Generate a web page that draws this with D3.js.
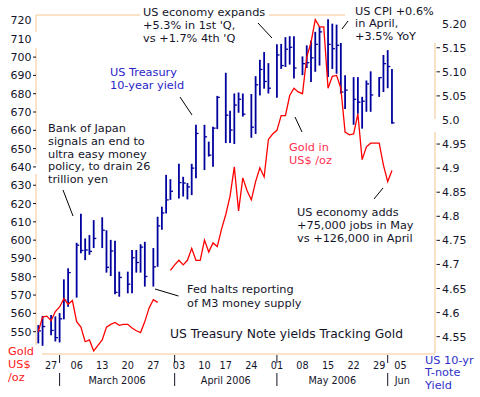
<!DOCTYPE html>
<html><head><meta charset="utf-8">
<script src="https://cdn.jsdelivr.net/npm/d3@7"></script>
<style>body{margin:0;background:#fff}svg{display:block;font-family:"DejaVu Sans",Verdana,sans-serif}</style>
</head><body><svg id="c" width="480" height="397"></svg>
<script>
// ---------- data ----------
const holidays = ["2006-04-14","2006-05-29"];
const barDates = ["2006-02-23","2006-02-24","2006-02-27","2006-02-28","2006-03-01","2006-03-02","2006-03-03",
"2006-03-06","2006-03-07","2006-03-08","2006-03-09","2006-03-10","2006-03-13","2006-03-14","2006-03-15","2006-03-16","2006-03-17",
"2006-03-20","2006-03-21","2006-03-22","2006-03-23","2006-03-24","2006-03-27","2006-03-28","2006-03-29","2006-03-30","2006-03-31",
"2006-04-03","2006-04-04","2006-04-05","2006-04-06","2006-04-07","2006-04-10","2006-04-11","2006-04-12","2006-04-13",
"2006-04-17","2006-04-18","2006-04-19","2006-04-20","2006-04-21","2006-04-24","2006-04-25","2006-04-26","2006-04-27","2006-04-28",
"2006-05-01","2006-05-02","2006-05-03","2006-05-04","2006-05-05","2006-05-08","2006-05-09","2006-05-10","2006-05-11","2006-05-12",
"2006-05-15","2006-05-16","2006-05-17","2006-05-18","2006-05-19","2006-05-22","2006-05-23","2006-05-24","2006-05-25","2006-05-26",
"2006-05-30","2006-05-31","2006-06-01","2006-06-02"];
const yieldHigh = [4.574,4.593,4.595,4.592,4.599,4.669,4.692,
4.745,4.805,4.754,4.761,4.792,4.798,4.771,4.751,4.749,4.685,
4.685,4.730,4.730,4.742,4.747,4.734,4.799,4.820,4.886,4.877,
4.909,4.882,4.869,4.909,4.990,4.990,4.955,4.986,5.050,
5.098,5.019,5.055,5.057,5.055,5.054,5.091,5.125,5.141,5.118,
5.157,5.158,5.172,5.174,5.174,5.132,5.155,5.165,5.183,5.193,
5.209,5.200,5.198,5.160,5.093,5.089,5.089,5.048,5.082,5.101,
5.089,5.135,5.145,5.106];
const yieldLow = [4.536,4.531,4.553,4.540,4.538,4.586,4.612,
4.631,4.723,4.709,4.720,4.734,4.734,4.683,4.676,4.638,4.633,
4.640,4.640,4.683,4.683,4.654,4.654,4.695,4.772,4.806,4.834,
4.837,4.841,4.835,4.844,4.879,4.896,4.924,4.903,4.981,
4.952,4.952,4.950,5.015,5.007,4.963,4.971,5.051,5.065,5.055,
5.046,5.106,5.110,5.115,5.086,5.093,5.108,5.079,5.100,5.113,
5.089,5.106,5.096,5.055,5.023,4.990,5.013,4.982,5.017,5.017,
5.048,5.058,5.066,4.992];
const yieldClose = [4.562,4.571,4.563,4.548,4.587,4.626,4.683,
4.740,4.729,4.730,4.727,4.754,4.771,4.694,4.728,4.642,4.673,
4.659,4.714,4.704,4.736,4.675,4.695,4.780,4.807,4.834,4.852,
4.870,4.869,4.861,4.900,4.972,4.965,4.927,4.983,5.047,
5.010,4.979,5.031,5.043,5.012,4.985,5.073,5.105,5.080,5.066,
5.135,5.113,5.147,5.151,5.108,5.117,5.119,5.129,5.157,5.183,
5.157,5.148,5.155,5.058,5.062,5.043,5.037,5.039,5.075,5.052,
5.088,5.117,5.111,4.994];
// gold, one value per plotting slot (weekend gaps included), null = no data
const goldValues = [550,558,558.5,556,561,563.5,568,565,567,555.5,
552.5,544.5,545.5,539.5,542.5,545.5,552.5,554,555,553.5,
554,554,552,550.5,549.5,555.5,563,567.5,566,null,
null,583.5,586.5,589,586.5,589,595.5,589,589,600,
593.5,598.5,596.5,606,614,624,640,616,634,627,
622,632,639.5,634.5,655,658,660,668,668,679,
683,681,680,700,708,720.5,716.5,716.5,683,689.5,
690,683,659,657.5,658,669,644,651,653,653,
653,641,632,638];
const leftTicks = [550,560,570,580,590,600,610,620,630,640,650,660,670,680,690,700,710,720];
const rightTicks = [4.55,4.6,4.65,4.7,4.75,4.8,4.85,4.9,4.95,5.0,5.05,5.1,5.15,5.2];
const rightTickLabels = ["4.55","4.6","4.65","4.7","4.75","4.8","4.85","4.9","4.95","5.0","5.05","5.10","5.15","5.20"];
const weekDates = ["2006-02-27","2006-03-06","2006-03-13","2006-03-20","2006-03-27","2006-04-03","2006-04-10","2006-04-17",
"2006-04-24","2006-05-01","2006-05-08","2006-05-15","2006-05-22","2006-05-29","2006-06-05"];
const weekLabels = ["27","06","13","20","27","03","10","17","24","01","08","15","22","29","05"];
const monthStarts = ["2006-03-01","2006-04-01","2006-05-01","2006-06-01"];
const monthLabels = ["March 2006","April 2006","May 2006","Jun"];

// ---------- slot calendar ----------
const parse = d3.utcParse("%Y-%m-%d"), fmt = d3.utcFormat("%Y-%m-%d");
const slotMap = new Map();
{ let prev = null, s = 0;
  for (let d = parse("2006-02-23"); d <= parse("2006-06-30"); d = d3.utcDay.offset(d, 1)) {
    const wd = d.getUTCDay(), key = fmt(d);
    if (wd === 0 || wd === 6 || holidays.includes(key)) continue;
    if (prev) s += (wd > prev.getUTCDay() && (d - prev) < 5 * 864e5) ? 1 : 2;
    slotMap.set(key, s); prev = d;
  } }
function nextSlot(key){ let d = parse(key); while(!slotMap.has(fmt(d))) d = d3.utcDay.offset(d,1); return slotMap.get(fmt(d)); }
function boundarySlot(key){ return slotMap.has(key) ? slotMap.get(key) : nextSlot(key) - 1; }

// ---------- scales ----------
const svg = d3.select("#c");
const x = d3.scaleLinear().domain([-0.54, 93.1]).range([36, 435]);
const yL = d3.scaleLinear().domain([537.8, 723]).range([354, 15]);
const yR = d3.scaleLinear().domain([4.514, 5.218]).range([354, 15]);

const AX = "#f6c590", INK = "#14142a";

// axis frame (segments interrupted by text boxes as in the original)
const seg = (x1,y1,x2,y2) => svg.append("line").attr("x1",x1).attr("y1",y1).attr("x2",x2).attr("y2",y2)
  .attr("stroke",AX).attr("stroke-width",1);
seg(36,15,36,32); seg(36,48,36,164); seg(36,174,36,345);
seg(435,43,435,119); seg(435,132,435,353);
seg(42,354,435,354);
seg(36,15,140,15); seg(269,15,345,15);

// left axis
const gl = svg.append("g").attr("font-size",11).attr("fill",INK);
leftTicks.forEach(v => {
  gl.append("text").attr("x",31.5).attr("y",yL(v)+4).attr("text-anchor","end").text(v);
  if (v <= 700) gl.append("line").attr("x1",33).attr("x2",36).attr("y1",yL(v)).attr("y2",yL(v)).attr("stroke",INK);
});
// right axis
const gr = svg.append("g").attr("font-size",11).attr("fill",INK);
rightTicks.forEach((v,i) => {
  gr.append("text").attr("x",442).attr("y",yR(v)+4).text(rightTickLabels[i]);
  if (rightTickLabels[i] !== "5.20" && rightTickLabels[i] !== "5.0")
    gr.append("line").attr("x1",436.5).attr("x2",440).attr("y1",yR(v)).attr("y2",yR(v)).attr("stroke",INK);
});

// x axis labels
const gx = svg.append("g").attr("font-size",9.7).attr("fill",INK);
weekDates.forEach((d,i) => {
  gx.append("text").attr("x",x(nextSlot(d))).attr("y",369).attr("text-anchor","middle").text(weekLabels[i]);
});
const mSlots = monthStarts.map(boundarySlot);
mSlots.forEach(s => {
  gx.append("line").attr("x1",x(s)).attr("x2",x(s)).attr("y1",355).attr("y2",363).attr("stroke",INK);
  gx.append("line").attr("x1",x(s)).attr("x2",x(s)).attr("y1",373).attr("y2",386).attr("stroke",INK);
});
monthLabels.forEach((m,i) => {
  if (i < mSlots.length-1)
    gx.append("text").attr("x",(x(mSlots[i]) + x(mSlots[i+1]))/2).attr("y",383.5).attr("text-anchor","middle").text(m);
  else
    gx.append("text").attr("x",x(mSlots[i]) + 7).attr("y",383.5).text(m);
});

// yield HLC bars
const bars = svg.append("g");
barDates.forEach((d,i) => {
  const cx = x(slotMap.get(d));
  bars.append("line").attr("x1",cx).attr("x2",cx).attr("y1",yR(yieldHigh[i])).attr("y2",yR(yieldLow[i]))
    .attr("stroke","#00009e").attr("stroke-width",1.8);
  bars.append("line").attr("x1",cx).attr("x2",cx+2.6).attr("y1",yR(yieldClose[i])).attr("y2",yR(yieldClose[i]))
    .attr("stroke","#00009e").attr("stroke-width",1.3);
});

// gold line
svg.append("path").datum(goldValues)
  .attr("d", d3.line().defined(v => v != null).x((v,i) => x(i)).y(v => yL(v)))
  .attr("fill","none").attr("stroke","#ff0000").attr("stroke-width",1.3);

// leader lines
const lead = (x1,y1,x2,y2) => svg.append("line").attr("x1",x1).attr("y1",y1).attr("x2",x2).attr("y2",y2)
  .attr("stroke","#000").attr("stroke-width",1);
lead(63,190,73,216); lead(180,97,192,115); lead(258,23,272,38); lead(348,21,342,29);
lead(295,117,302,132); lead(383,188,374,199); lead(155,289,178.5,296);

// annotations
function block(x0, y0, lines, color, size, lh){
  const t = svg.append("text").attr("font-size",size).attr("fill",color);
  lines.forEach((l,i) => t.append("tspan").attr("x",x0).attr("y",y0 + i*lh).text(l));
}
block(143,16,["US economy expands","+5.3% in 1st 'Q,","vs +1.7% 4th 'Q"],INK,11.3,13);
block(355,14.5,["US CPI +0.6%","in April,","+3.5% YoY"],INK,11.3,12.6);
block(110,76,["US Treasury","10-year yield"],"#2a25c8",11.3,13);
block(48,132,["Bank of Japan","signals an end to","ultra easy money","policy, to drain 26","trillion yen"],INK,11.3,12.8);
block(289,151,["Gold in","US$ /oz"],"#ff2f50",11.3,13.3);
block(297,215.5,["US economy adds","+75,000 jobs in May","vs +126,000 in April"],INK,11.3,13.2);
block(187,293,["Fed halts reporting","of M3 money supply"],INK,11.3,13.5);
block(170,338,["US Treasury Note yields Tracking Gold"],INK,12.3,13);
svg.append("rect").attr("x",0).attr("y",345).attr("width",41).attr("height",45).attr("fill","#fff");
block(8,355,["Gold","US$","/oz"],"#ff2020",11.3,13.2);
block(425,363.5,["US 10-yr","T-note","Yield"],"#3030c8",11.3,12.8);
</script></body></html>
